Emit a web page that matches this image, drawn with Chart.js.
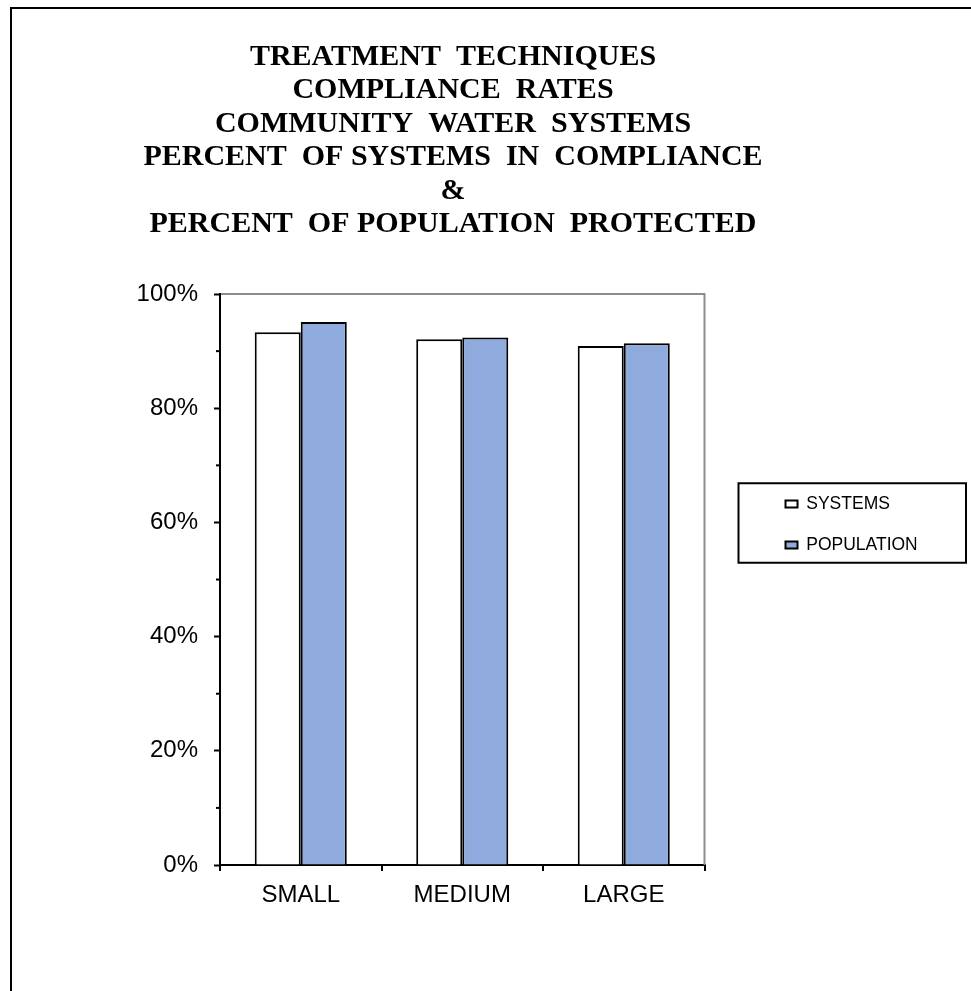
<!DOCTYPE html>
<html>
<head>
<meta charset="utf-8">
<script src="https://cdn.jsdelivr.net/npm/chart.js@4.4.1/dist/chart.umd.min.js"></script>
<style>
  html, body { margin: 0; padding: 0; background: #fff; overflow: hidden; }
  #frame { position: absolute; left: 10px; top: 7px; width: 2000px; height: 2000px; border: 2px solid #000; }
  #wrap { position: absolute; left: 0; top: 0; width: 971px; height: 1049px; }
</style>
</head>
<body>
<div id="frame"></div>
<div id="wrap"><canvas id="chart"></canvas></div>
<script>
const categories = ['SMALL', 'MEDIUM', 'LARGE'];
const systemsPct = [93.3, 92.1, 90.9];
const populationPct = [95.1, 92.4, 91.4];
const majorTicks = [0, 20, 40, 60, 80, 100];
const titleLines = [
  'TREATMENT  TECHNIQUES',
  'COMPLIANCE  RATES',
  'COMMUNITY  WATER  SYSTEMS',
  'PERCENT  OF SYSTEMS  IN  COMPLIANCE',
  '&',
  'PERCENT  OF POPULATION  PROTECTED'
];

const sans = "'Liberation Sans', Arial, sans-serif";

// grey top/right plot border, short minor ticks, box round the legend
const extras = {
  id: 'extras',
  beforeDatasetsDraw(chart) {
    const { ctx, chartArea: a, scales: { y } } = chart;
    ctx.save();
    ctx.strokeStyle = '#8c8c8c';
    ctx.lineWidth = 2;
    ctx.beginPath();
    ctx.moveTo(a.left + 1, a.top);
    ctx.lineTo(a.right, a.top);
    ctx.lineTo(a.right, a.bottom);
    ctx.stroke();
    ctx.strokeStyle = '#000';
    y.ticks.forEach(t => {
      if (!majorTicks.includes(t.value)) {
        const py = y.getPixelForValue(t.value);
        ctx.beginPath();
        ctx.moveTo(a.left - 4, py);
        ctx.lineTo(a.left, py);
        ctx.stroke();
      }
    });
    ctx.restore();
  },
  afterDraw(chart) {
    const lg = chart.legend;
    const hb = lg.legendHitBoxes;
    if (!hb || !hb.length) return;
    const last = hb[hb.length - 1];
    const ctx = chart.ctx;
    ctx.save();
    ctx.strokeStyle = '#000';
    ctx.lineWidth = 2;
    const left = lg.left - 23.5;
    const top = hb[0].top - 12;
    const bottom = last.top + last.height + 9;
    ctx.strokeRect(left, top, 966 - left, bottom - top);
    ctx.restore();
  }
};

new Chart(document.getElementById('chart'), {
  type: 'bar',
  data: {
    labels: categories,
    datasets: [
      {
        label: 'SYSTEMS',
        data: systemsPct,
        backgroundColor: '#ffffff',
        borderColor: '#000000',
        borderWidth: 2,
        yAxisID: 'y'
      },
      {
        label: 'POPULATION',
        data: populationPct,
        backgroundColor: '#8faadc',
        borderColor: '#000000',
        borderWidth: 2,
        yAxisID: 'y'
      }
    ]
  },
  plugins: [extras],
  options: {
    responsive: true,
    maintainAspectRatio: false,
    animation: false,
    layout: { padding: { top: 10, left: -10.5, right: 54.5, bottom: 10 } },
    datasets: { bar: { categoryPercentage: 0.57, barPercentage: 1.0 } },
    plugins: {
      title: {
        display: true,
        text: titleLines,
        color: '#000',
        font: { family: "'Liberation Serif', 'Times New Roman', serif", size: 30, weight: 'bold', lineHeight: 1.117 },
        padding: { top: 30, bottom: 53 }
      },
      legend: {
        position: 'right',
        align: 'center',
        labels: {
          color: '#000',
          font: { family: sans, size: 17.5 },
          boxWidth: 12,
          boxHeight: 7,
          padding: 23.5
        }
      },
      tooltip: { enabled: false }
    },
    scales: {
      x: {
        grid: { offset: true, drawOnChartArea: false, color: '#000', lineWidth: 2, tickLength: 6 },
        border: { color: '#000', width: 2 },
        ticks: { color: '#000', font: { family: sans, size: 24 }, padding: 10 },
        afterFit(s) { s.height = 174; }
      },
      y: {
        min: 0,
        max: 100,
        grid: {
          drawOnChartArea: false,
          tickLength: 6,
          tickWidth: 2,
          tickColor: c => (c.tick && majorTicks.includes(c.tick.value)) ? '#000' : 'rgba(0,0,0,0)'
        },
        border: { color: '#000', width: 2 },
        ticks: {
          stepSize: 10,
          color: '#000',
          font: { family: sans, size: 24 },
          padding: 16,
          callback: v => majorTicks.includes(v) ? v + '%' : ''
        },
        afterFit(s) { s.width = 230.5; }
      },
      y2: {
        position: 'right',
        display: true,
        grid: { display: false },
        border: { display: false },
        ticks: { display: false },
        afterFit(s) { s.width = 57.5; }
      }
    }
  }
});
</script>
</body>
</html>
